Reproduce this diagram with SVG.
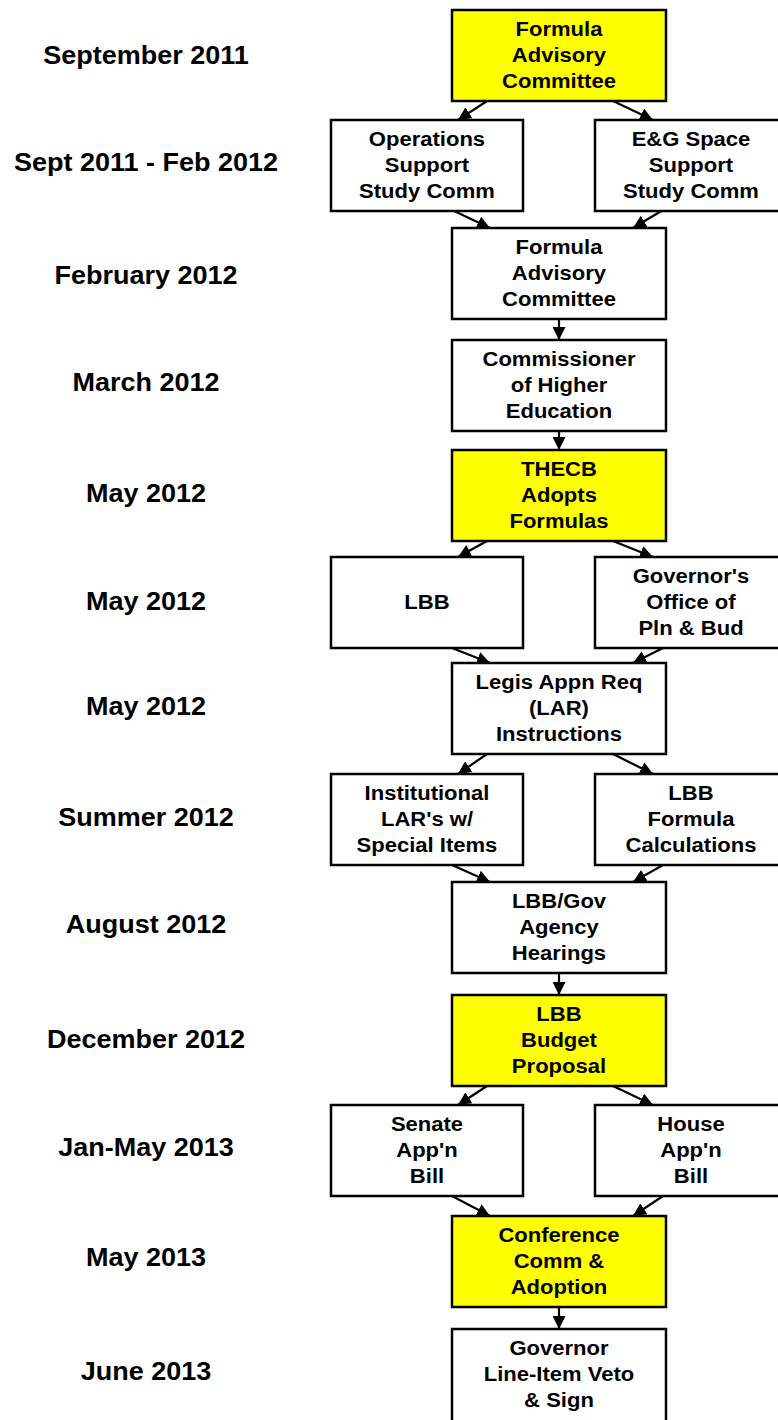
<svg xmlns="http://www.w3.org/2000/svg" width="778" height="1420" viewBox="0 0 778 1420">
<style>
.box{fill:#fff;stroke:#000;stroke-width:2.5}
.hl{fill:#ffff00}
.t{font-family:"Liberation Sans",Arial,sans-serif;font-weight:bold;font-size:20.5px;text-anchor:middle;fill:#000}
.lbl{font-family:"Liberation Sans",Arial,sans-serif;font-weight:bold;font-size:25px;text-anchor:middle;fill:#000}
.c{stroke:#000;stroke-width:2.2;fill:none;marker-end:url(#ah)}
</style>
<defs>
<marker id="ah" markerWidth="14" markerHeight="13" refX="13" refY="6.5" orient="auto" markerUnits="userSpaceOnUse">
<path d="M0,0 L13,6.5 L0,13 z" fill="#000"/>
</marker>
</defs>
<rect width="778" height="1420" fill="#fff"/>
<g id="labels" transform="matrix(1.08 0 0 1 -11.68 0)">
<text class="lbl" x="146" y="64">September 2011</text>
<text class="lbl" x="146" y="171">Sept 2011 - Feb 2012</text>
<text class="lbl" x="146" y="284">February 2012</text>
<text class="lbl" x="146" y="391">March 2012</text>
<text class="lbl" x="146" y="502">May 2012</text>
<text class="lbl" x="146" y="610">May 2012</text>
<text class="lbl" x="146" y="715">May 2012</text>
<text class="lbl" x="146" y="826">Summer 2012</text>
<text class="lbl" x="146" y="933">August 2012</text>
<text class="lbl" x="146" y="1048">December 2012</text>
<text class="lbl" x="146" y="1156">Jan-May 2013</text>
<text class="lbl" x="146" y="1266">May 2013</text>
<text class="lbl" x="146" y="1380">June 2013</text>
</g>
<g id="connectors">
<line class="c" x1="487" y1="101" x2="458" y2="120"/>
<line class="c" x1="613" y1="101" x2="653" y2="120"/>
<line class="c" x1="452" y1="210" x2="490" y2="228"/>
<line class="c" x1="663" y1="210" x2="633" y2="228"/>
<line class="c" x1="559" y1="319" x2="559" y2="340"/>
<line class="c" x1="559" y1="431" x2="559" y2="450"/>
<line class="c" x1="487" y1="541" x2="458" y2="557"/>
<line class="c" x1="613" y1="541" x2="653" y2="557"/>
<line class="c" x1="452" y1="648" x2="490" y2="663"/>
<line class="c" x1="663" y1="648" x2="633" y2="663"/>
<line class="c" x1="487" y1="754" x2="458" y2="774"/>
<line class="c" x1="613" y1="754" x2="653" y2="774"/>
<line class="c" x1="452" y1="865" x2="490" y2="882"/>
<line class="c" x1="663" y1="865" x2="633" y2="882"/>
<line class="c" x1="559" y1="973" x2="559" y2="995"/>
<line class="c" x1="487" y1="1086" x2="458" y2="1105"/>
<line class="c" x1="613" y1="1086" x2="653" y2="1105"/>
<line class="c" x1="452" y1="1196" x2="490" y2="1216"/>
<line class="c" x1="663" y1="1196" x2="633" y2="1216"/>
<line class="c" x1="559" y1="1307" x2="559" y2="1329"/>
</g>
<g id="n1"><rect class="box hl" x="452" y="10" width="214" height="91"/>
<g transform="matrix(1.075 0 0 1 -41.925 0)"><text class="t" x="559" y="36.5">Formula</text><text class="t" x="559" y="62.5">Advisory</text><text class="t" x="559" y="88.5">Committee</text></g></g>
<g id="n2a"><rect class="box" x="331" y="120" width="192" height="91"/>
<g transform="matrix(1.075 0 0 1 -32.025 0)"><text class="t" x="427" y="146.5">Operations</text><text class="t" x="427" y="172.5">Support</text><text class="t" x="427" y="198.5">Study Comm</text></g></g>
<g id="n2b"><rect class="box" x="595" y="120" width="192" height="91"/>
<g transform="matrix(1.075 0 0 1 -51.825 0)"><text class="t" x="691" y="146.5">E&amp;G Space</text><text class="t" x="691" y="172.5">Support</text><text class="t" x="691" y="198.5">Study Comm</text></g></g>
<g id="n3"><rect class="box" x="452" y="228" width="214" height="91"/>
<g transform="matrix(1.075 0 0 1 -41.925 0)"><text class="t" x="559" y="254.5">Formula</text><text class="t" x="559" y="280.5">Advisory</text><text class="t" x="559" y="306.5">Committee</text></g></g>
<g id="n4"><rect class="box" x="452" y="340" width="214" height="91"/>
<g transform="matrix(1.075 0 0 1 -41.925 0)"><text class="t" x="559" y="366.5">Commissioner</text><text class="t" x="559" y="392.5">of Higher</text><text class="t" x="559" y="418.5">Education</text></g></g>
<g id="n5"><rect class="box hl" x="452" y="450" width="214" height="91"/>
<g transform="matrix(1.075 0 0 1 -41.925 0)"><text class="t" x="559" y="476.5">THECB</text><text class="t" x="559" y="502.5">Adopts</text><text class="t" x="559" y="528.5">Formulas</text></g></g>
<g id="n6a"><rect class="box" x="331" y="557" width="192" height="91"/>
<g transform="matrix(1.075 0 0 1 -32.025 0)"><text class="t" x="427" y="609.5">LBB</text></g></g>
<g id="n6b"><rect class="box" x="595" y="557" width="192" height="91"/>
<g transform="matrix(1.075 0 0 1 -51.825 0)"><text class="t" x="691" y="583.5">Governor's</text><text class="t" x="691" y="609.5">Office of</text><text class="t" x="691" y="635.5">Pln &amp; Bud</text></g></g>
<g id="n7"><rect class="box" x="452" y="663" width="214" height="91"/>
<g transform="matrix(1.075 0 0 1 -41.925 0)"><text class="t" x="559" y="689.5">Legis Appn Req</text><text class="t" x="559" y="715.5">(LAR)</text><text class="t" x="559" y="741.5">Instructions</text></g></g>
<g id="n8a"><rect class="box" x="331" y="774" width="192" height="91"/>
<g transform="matrix(1.075 0 0 1 -32.025 0)"><text class="t" x="427" y="800.5">Institutional</text><text class="t" x="427" y="826.5">LAR's w/</text><text class="t" x="427" y="852.5">Special Items</text></g></g>
<g id="n8b"><rect class="box" x="595" y="774" width="192" height="91"/>
<g transform="matrix(1.075 0 0 1 -51.825 0)"><text class="t" x="691" y="800.5">LBB</text><text class="t" x="691" y="826.5">Formula</text><text class="t" x="691" y="852.5">Calculations</text></g></g>
<g id="n9"><rect class="box" x="452" y="882" width="214" height="91"/>
<g transform="matrix(1.075 0 0 1 -41.925 0)"><text class="t" x="559" y="908.5">LBB/Gov</text><text class="t" x="559" y="934.5">Agency</text><text class="t" x="559" y="960.5">Hearings</text></g></g>
<g id="n10"><rect class="box hl" x="452" y="995" width="214" height="91"/>
<g transform="matrix(1.075 0 0 1 -41.925 0)"><text class="t" x="559" y="1021.5">LBB</text><text class="t" x="559" y="1047.5">Budget</text><text class="t" x="559" y="1073.5">Proposal</text></g></g>
<g id="n11a"><rect class="box" x="331" y="1105" width="192" height="91"/>
<g transform="matrix(1.075 0 0 1 -32.025 0)"><text class="t" x="427" y="1131.5">Senate</text><text class="t" x="427" y="1157.5">App'n</text><text class="t" x="427" y="1183.5">Bill</text></g></g>
<g id="n11b"><rect class="box" x="595" y="1105" width="192" height="91"/>
<g transform="matrix(1.075 0 0 1 -51.825 0)"><text class="t" x="691" y="1131.5">House</text><text class="t" x="691" y="1157.5">App'n</text><text class="t" x="691" y="1183.5">Bill</text></g></g>
<g id="n12"><rect class="box hl" x="452" y="1216" width="214" height="91"/>
<g transform="matrix(1.075 0 0 1 -41.925 0)"><text class="t" x="559" y="1242.5">Conference</text><text class="t" x="559" y="1268.5">Comm &amp;</text><text class="t" x="559" y="1294.5">Adoption</text></g></g>
<g id="n13"><rect class="box" x="452" y="1329" width="214" height="93"/>
<g transform="matrix(1.075 0 0 1 -41.925 0)"><text class="t" x="559" y="1355.5">Governor</text><text class="t" x="559" y="1381.5">Line-Item Veto</text><text class="t" x="559" y="1407.5">&amp; Sign</text></g></g>
</svg>
